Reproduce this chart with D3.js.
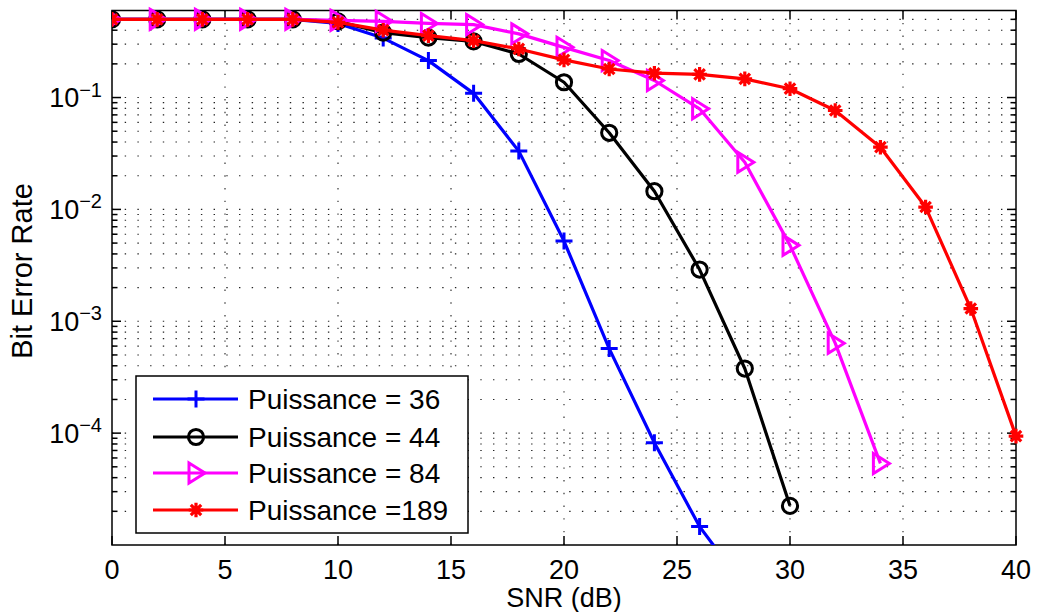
<!DOCTYPE html>
<html><head><meta charset="utf-8">
<script src="https://cdn.jsdelivr.net/npm/d3@7"></script>
<style>
body{margin:0;background:#fff}
svg{display:block}
text{font-family:"Liberation Sans",Arial,Helvetica,sans-serif;fill:#000}
</style>
</head><body>
<svg id="c" width="1037" height="612"></svg>
<script>
// ---- data ----
const snr = [0,2,4,6,8,10,12,14,16,18,20,22,24,26,28,30,32,34,36,38,40];
const ber36  = [0.5,0.5,0.5,0.5,0.5,0.46,0.34,0.214,0.109,0.0332,0.00521,5.7e-4,8.2e-5,1.46e-5,4.2e-6];
const ber44  = [0.5,0.5,0.5,0.5,0.5,0.48,0.38,0.343,0.318,0.245,0.137,0.0484,0.01455,2.9e-3,3.78e-4,2.24e-5];
const ber84  = [0.5,0.5,0.5,0.5,0.5,0.49,0.48,0.46,0.449,0.371,0.281,0.214,0.142,0.0793,0.0264,4.77e-3,6.37e-4,5.36e-5];
const ber189 = [0.5,0.5,0.5,0.5,0.5,0.47,0.40,0.358,0.323,0.272,0.217,0.180,0.165,0.161,0.147,0.120,0.0766,0.036,0.0105,1.30e-3,9.4e-5];
const seriesNames = ["Puissance = 36","Puissance = 44","Puissance = 84","Puissance =189"];
const seriesColors = ["#0000ff","#000000","#ff00ff","#ff0000"];
const seriesMarkers = ["plus","circle","triangle","star"];
const xTicks = [0,5,10,15,20,25,30,35,40];
const yTickExps = [-1,-2,-3,-4];
const xDomain = [0,40];
const yDomain = [1e-5,0.6];

// ---- layout ----
const L = 112, R = 1016, T = 10.5, B = 545;
const svg = d3.select("#c");
const x = d3.scaleLinear().domain(xDomain).range([L,R]);
const y = d3.scaleLog().domain(yDomain).range([B,T]);

// grid values
const minorY = [];
for (let e=-5;e<=-1;e++) for (let m=1;m<=9;m++){ const v=m*Math.pow(10,e); if (v>yDomain[0]*1.0001 && v<yDomain[1]*0.999) minorY.push(v); }

const grid = svg.append("g");
grid.selectAll("line.h").data(minorY).join("line")
  .attr("x1",L).attr("x2",R).attr("y1",d=>y(d)).attr("y2",d=>y(d))
  .attr("stroke","#222").attr("stroke-width",1.1).attr("stroke-dasharray","1.4,11.3");
grid.selectAll("line.v").data(xTicks.slice(1,-1)).join("line")
  .attr("x1",d=>x(d)).attr("x2",d=>x(d)).attr("y1",B).attr("y2",T)
  .attr("stroke","#222").attr("stroke-width",1.1).attr("stroke-dasharray","1.4,11.3");

// axes ticks (inside)
const ax = svg.append("g").attr("stroke","#000").attr("stroke-width",1.5);
const isMajor = v => Math.abs(Math.log10(v)-Math.round(Math.log10(v)))<1e-9;
minorY.forEach(v=>{
  const len = isMajor(v)?9:5.5;
  ax.append("line").attr("x1",L).attr("x2",L+len).attr("y1",y(v)).attr("y2",y(v));
  ax.append("line").attr("x1",R).attr("x2",R-len).attr("y1",y(v)).attr("y2",y(v));
});
xTicks.forEach(v=>{
  ax.append("line").attr("x1",x(v)).attr("x2",x(v)).attr("y1",B).attr("y2",B-9);
  ax.append("line").attr("x1",x(v)).attr("x2",x(v)).attr("y1",T).attr("y2",T+9);
});
ax.append("rect").attr("x",L).attr("y",T).attr("width",R-L).attr("height",B-T).attr("fill","none");

// tick labels
svg.append("g").selectAll("text").data(xTicks).join("text")
  .attr("x",d=>x(d)).attr("y",579).attr("text-anchor","middle").attr("font-size",27).text(d=>d);
const yl = svg.append("g").selectAll("text").data(yTickExps).join("text")
  .attr("x",102).attr("y",d=>y(Math.pow(10,d))+9.7).attr("text-anchor","end").attr("font-size",27);
yl.append("tspan").text("10");
yl.append("tspan").attr("dy",-10.7).attr("font-size",20).text(d=>"\u2212"+Math.abs(d));

// axis labels
svg.append("text").attr("x",(L+R)/2).attr("y",607).attr("text-anchor","middle").attr("font-size",27).text("SNR (dB)");
svg.append("text").attr("transform",`translate(32,271) rotate(-90)`).attr("text-anchor","middle").attr("font-size",29).text("Bit Error Rate");

// markers
function drawMarker(g, type, color){
  if (type==="plus"){
    g.append("path").attr("d","M-8.5,0H8.5M0,-8.5V8.5").attr("stroke",color).attr("stroke-width",3).attr("fill","none");
  } else if (type==="circle"){
    g.append("circle").attr("r",7.6).attr("stroke",color).attr("stroke-width",3).attr("fill","none");
  } else if (type==="triangle"){
    g.append("path").attr("d","M-7,-10L9,0L-7,10Z").attr("stroke",color).attr("stroke-width",3).attr("fill","none");
  } else {
    const a=7.3, b=5.2;
    g.append("path").attr("d",`M-${a},0H${a}M0,-${a}V${a}M-${b},-${b}L${b},${b}M-${b},${b}L${b},-${b}`)
      .attr("stroke",color).attr("stroke-width",3.2).attr("fill","none");
  }
}

// clip
svg.append("clipPath").attr("id","clip").append("rect").attr("x",L).attr("y",T-12).attr("width",R-L+12).attr("height",B-T+12);

const allSeries = [ber36,ber44,ber84,ber189];
const line = d3.line().x(d=>x(d[0])).y(d=>y(d[1]));
const plot = svg.append("g").attr("clip-path","url(#clip)");
allSeries.forEach((vals,i)=>{
  const pts = vals.map((v,j)=>[snr[j],v]);
  const g = plot.append("g");
  g.append("path").attr("d",line(pts)).attr("fill","none").attr("stroke",seriesColors[i]).attr("stroke-width",3.2).attr("stroke-linejoin","round");
  pts.forEach(p=>{
    if (p[1] < yDomain[0]) return;
    const m = g.append("g").attr("transform",`translate(${x(p[0])},${y(p[1])})`);
    drawMarker(m, seriesMarkers[i], seriesColors[i]);
  });
});

// legend
const lg = svg.append("g");
lg.append("rect").attr("x",136).attr("y",376).attr("width",332).attr("height",157).attr("fill","#fff").attr("stroke","#000").attr("stroke-width",1.5);
const ly = [399,437,473,510];
seriesNames.forEach((n,i)=>{
  lg.append("line").attr("x1",153).attr("x2",238).attr("y1",ly[i]).attr("y2",ly[i]).attr("stroke",seriesColors[i]).attr("stroke-width",3.2);
  const m = lg.append("g").attr("transform",`translate(196,${ly[i]})`);
  drawMarker(m, seriesMarkers[i], seriesColors[i]);
  lg.append("text").attr("x",248).attr("y",ly[i]+10).attr("font-size",28).text(n);
});
</script>
</body></html>
